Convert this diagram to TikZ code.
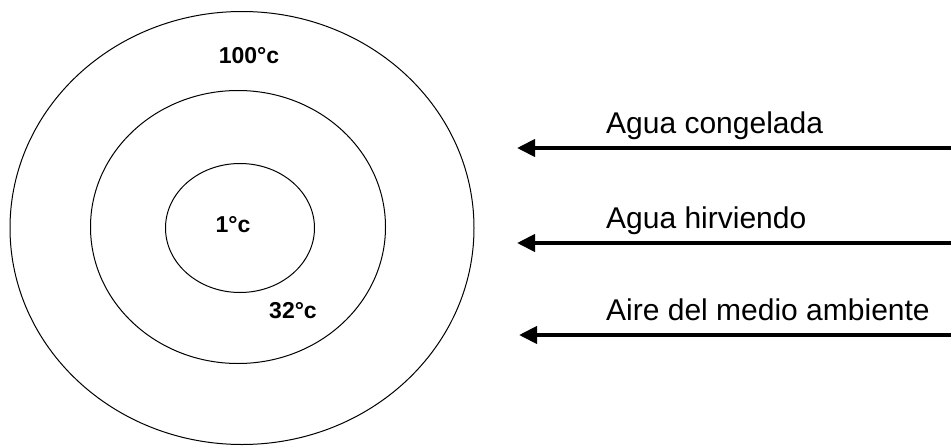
\documentclass[tikz,border=0pt]{standalone}
\usepackage{fontspec}
\setmainfont{Liberation Sans}
\usetikzlibrary{shapes.geometric, arrows.meta, positioning}

\begin{document}
\begin{tikzpicture}[
    x=1pt, y=-1pt,
    ring/.style={ellipse, draw=black, line width=1pt, inner sep=0pt},
    temp/.style={font=\fontsize{23}{27}\selectfont\bfseries, inner sep=0pt},
    medio/.style={font=\fontsize{30}{36}\selectfont, anchor=base west, inner sep=0pt},
    arr/.style={-{Triangle[length=18pt, width=17pt]}, line width=4pt}
]
\useasboundingbox (0,0) rectangle (951,447);

\node[ring, minimum width=464pt, minimum height=433pt] (outer) at (242,228) {};
\node[ring, minimum width=295pt, minimum height=273pt] (middle) at (238,227) {};
\node[ring, minimum width=149pt, minimum height=129pt] (inner) at (240,228) {};

\node[temp] (T100) at (249,56) {100°c};
\node[temp] (T1) at (233,225) {1°c};
\node[temp] (T32) at (293,311) {32°c};

\coordinate (S1) at (951,148);
\coordinate (E1) at (517,148);
\coordinate (S2) at (951,243);
\coordinate (E2) at (517,243);
\coordinate (S3) at (951,335);
\coordinate (E3) at (519,335);

\node[medio] (L1) at (606,133) {Agua congelada};
\node[medio] (L2) at (606,228) {Agua hirviendo};
\node[medio] (L3) at (606,320) {Aire del medio ambiente};

\draw[arr] (S1) -- (E1);
\draw[arr] (S2) -- (E2);
\draw[arr] (S3) -- (E3);
\end{tikzpicture}
\end{document}
